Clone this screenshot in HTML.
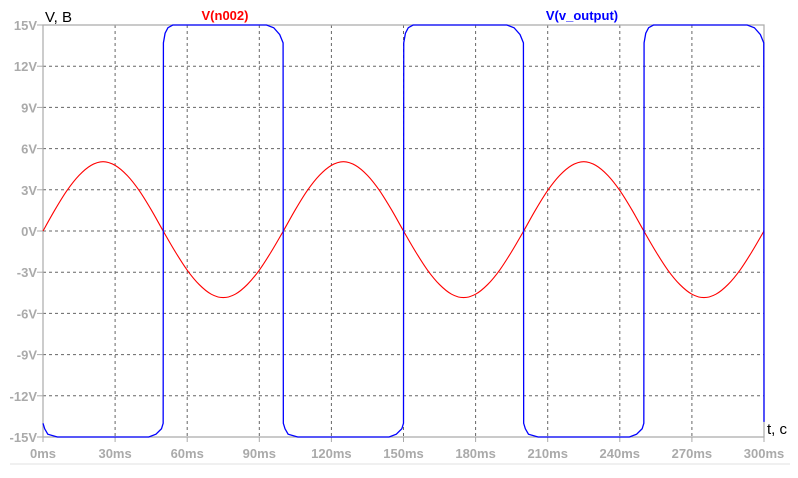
<!DOCTYPE html>
<html><head><meta charset="utf-8"><style>
body{margin:0;background:#fff;}
svg text{font-family:"Liberation Sans",sans-serif;}
</style></head><body>
<svg id="chart" width="798" height="473" xmlns="http://www.w3.org/2000/svg">
<g id="grid"></g>
<g id="axes"></g>
<g id="series"></g>
<text x="45" y="22" font-size="15" fill="#000">V, B</text>
<text x="767" y="434" font-size="15" fill="#000">t, c</text>
<text x="225" y="20" font-size="13" font-weight="bold" fill="#ff0000" text-anchor="middle">V(n002)</text>
<text x="582" y="20" font-size="13" font-weight="bold" fill="#0000ff" text-anchor="middle">V(v_output)</text>
<line x1="10" y1="464" x2="790" y2="464" stroke="#e0e0e0" stroke-width="1"/>
</svg>
<script>
const xTicks=[0,30,60,90,120,150,180,210,240,270,300];
const xTickLabels=["0ms","30ms","60ms","90ms","120ms","150ms","180ms","210ms","240ms","270ms","300ms"];
const yTicks=[15,12,9,6,3,0,-3,-6,-9,-12,-15];
const yTickLabels=["15V","12V","9V","6V","3V","0V","-3V","-6V","-9V","-12V","-15V"];
const sineTimes=[];for(let i=0;i<=60;i++)sineTimes.push(i*5);
const sineValues=[0,1.55,2.95,4.05,4.78,5.05,4.78,4.05,2.95,1.55,0,-1.5,-2.85,-3.9,-4.6,-4.85,-4.6,-3.9,-2.85,-1.5,
0,1.55,2.95,4.05,4.78,5.05,4.78,4.05,2.95,1.55,0,-1.5,-2.85,-3.9,-4.6,-4.85,-4.6,-3.9,-2.85,-1.5,
0,1.55,2.95,4.05,4.78,5.05,4.78,4.05,2.95,1.55,0,-1.5,-2.85,-3.9,-4.6,-4.85,-4.6,-3.9,-2.85,-1.5,0];
const squareTimes=[0,0.7,2,6,44,47,49.3,50,50.1,50.8,52,54,93,96,98.5,99.9,100,100.7,102,106,144,147,149.3,150,150.1,150.8,152,154,193,196,198.5,199.9,200,200.7,202,206,244,247,249.3,250,250.1,250.8,252,254,293,296,298.5,299.9,300];
const squareValues=[-14,-14.4,-14.8,-15,-15,-14.8,-14.4,-14,13.7,14.4,14.8,15,15,14.8,14.3,13.7,-14,-14.4,-14.8,-15,-15,-14.8,-14.4,-14,13.7,14.4,14.8,15,15,14.8,14.3,13.7,-14,-14.4,-14.8,-15,-15,-14.8,-14.4,-14,13.7,14.4,14.8,15,15,14.8,14.3,13.7,-13.9];
const NS='http://www.w3.org/2000/svg';
const X0=43,X1=764,Y0=437,Y1=25;
function xs(t){return X0+(t/300)*(X1-X0);}
function ys(v){return Y0-((v+15)/30)*(Y0-Y1);}
function mk(tag,attrs,parent){const e=document.createElementNS(NS,tag);for(const k in attrs)e.setAttribute(k,attrs[k]);parent.appendChild(e);return e;}
const grid=document.getElementById('grid'),axes=document.getElementById('axes'),series=document.getElementById('series');
xTicks.forEach((t,i)=>{
  if(t>0&&t<300){const l=mk('line',{x1:xs(t),y1:Y1,x2:xs(t),y2:Y0,stroke:'#666','stroke-dasharray':'3,3','stroke-width':1},grid);
  
  }
  const tk=mk('line',{x1:xs(t),y1:Y0,x2:xs(t),y2:Y0+5,stroke:'#aaa'},axes);
  
  
  const tx=mk('text',{x:xs(t),y:458,'font-size':13,fill:'#aaa','text-anchor':'middle','font-weight':'bold'},axes);
  tx.textContent=xTickLabels[i];
  
  
});
yTicks.forEach((v,i)=>{
  if(v>-15&&v<15){const l=mk('line',{x1:X0,y1:ys(v),x2:X1,y2:ys(v),stroke:'#666','stroke-dasharray':'3,3','stroke-width':1},grid);
  
  }
  const tk=mk('line',{x1:X0-6,y1:ys(v),x2:X0,y2:ys(v),stroke:'#aaa'},axes);
  
  
  const tx=mk('text',{x:37,y:ys(v)+5,'font-size':13,fill:'#aaa','text-anchor':'end','font-weight':'bold'},axes);
  tx.textContent=yTickLabels[i];
  
  
});
const frame=mk('path',{d:`M${X0},${Y0}V${Y1}H${X1}V${Y0}H${X0}`,fill:'none',stroke:'#aaa','stroke-width':1.2},axes);


let pts=sineTimes.map((t,i)=>[xs(t),ys(sineValues[i])]);
let d=`M${pts[0][0]},${pts[0][1]}`;
for(let i=0;i<pts.length-1;i++){const p0=pts[Math.max(0,i-1)],p1=pts[i],p2=pts[i+1],p3=pts[Math.min(pts.length-1,i+2)];
 d+=`C${p1[0]+(p2[0]-p0[0])/6},${p1[1]+(p2[1]-p0[1])/6} ${p2[0]-(p3[0]-p1[0])/6},${p2[1]-(p3[1]-p1[1])/6} ${p2[0]},${p2[1]}`;}
const sp=mk('path',{d:d,fill:'none',stroke:'#ff0000','stroke-width':1.1},series);


const sq=mk('polyline',{points:squareTimes.map((t,i)=>xs(t)+','+ys(squareValues[i])).join(' '),fill:'none',stroke:'#0000ff','stroke-width':1.3},series);


</script>
</body></html>
